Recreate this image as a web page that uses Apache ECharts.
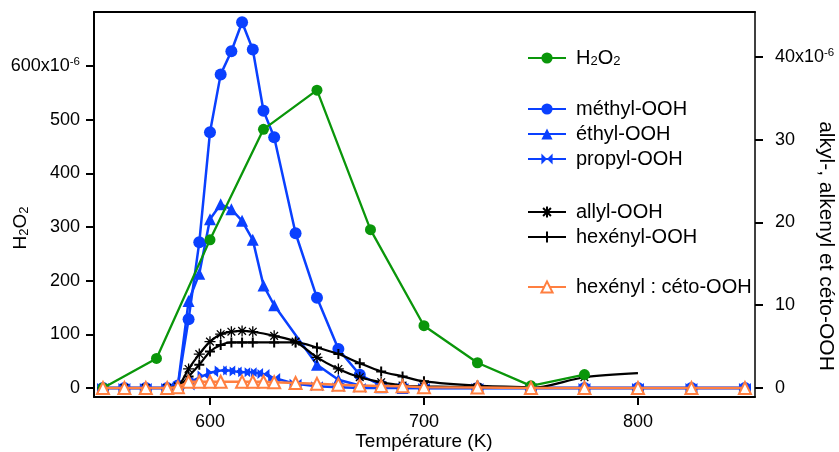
<!DOCTYPE html>
<html>
<head>
<meta charset="utf-8">
<script src="https://cdn.jsdelivr.net/npm/echarts@6/dist/echarts.min.js"></script>
<style>
html,body{margin:0;padding:0;background:#fff;}
#c{width:839px;height:452px;}
</style>
</head>
<body>
<div id="c"></div>
<script>
// ---- data (temperature in K, concentrations) ----
const xTicks = [600, 700, 800];
const leftTicks = [0, 100, 200, 300, 400, 500, 600];
const rightTicks = [0, 10, 20, 30, 40];

const tH2O2 = [550, 575, 600, 625, 650, 675, 700, 725, 750, 775];
const vH2O2 = [0, 55, 276, 482, 555, 295, 116, 47, 4, 25];

const tMethyl = [550, 560, 570, 580, 585, 590, 595, 600, 605, 610, 615, 620, 625, 630, 640, 650, 660, 670, 680, 690, 700, 725, 750, 775, 800, 825, 850];
const vMethyl = [0, 0, 0, 0, 0.3, 8.3, 17.6, 30.9, 37.9, 40.7, 44.2, 40.9, 33.5, 30.3, 18.7, 10.9, 4.7, 1.6, 0.3, 0.1, 0, 0, 0, 0, 0, 0, 0];

const tEthyl = [550, 560, 570, 580, 585, 590, 595, 600, 605, 610, 615, 620, 625, 630, 650, 660, 670, 680, 690, 700, 725, 750, 775, 800, 825, 850];
const vEthyl = [0, 0, 0, 0, 0.3, 10.5, 13.8, 20.4, 22.2, 21.6, 20.2, 17.9, 12.4, 10.0, 2.8, 1.0, 0.3, 0.1, 0, 0, 0, 0, 0, 0, 0, 0];

const tPropyl = [550, 560, 570, 580, 585, 590, 593, 597, 601, 605, 609, 612, 616, 619, 622, 625, 630, 640, 650, 660, 670, 680, 690, 700, 725, 750, 775, 800, 825, 850];
const vPropyl = [0, 0, 0, 0, 0.1, 0.3, 1.0, 1.5, 1.9, 2.1, 2.1, 2.0, 1.9, 1.9, 1.8, 1.7, 1.2, 0.5, 0.2, 0.1, 0, 0, 0, 0, 0, 0, 0, 0, 0, 0];

const tAllyl = [550, 560, 570, 580, 585, 590, 595, 600, 605, 610, 615, 620, 630, 640, 650, 660, 670, 680, 690, 700, 725, 750, 775, 800];
const vAllyl = [0, 0, 0, 0, 0.2, 2.3, 4.1, 5.6, 6.5, 6.8, 6.9, 6.8, 6.3, 5.6, 3.7, 2.3, 1.3, 0.7, 0.3, 0.2, 0.1, 0, 1.3, 1.8];

const tHexenyl = [550, 560, 570, 580, 585, 590, 595, 600, 605, 610, 615, 620, 630, 640, 650, 660, 670, 680, 690, 700, 725, 750];
const vHexenyl = [0, 0, 0, 0, 0.1, 1.4, 2.8, 4.4, 5.2, 5.5, 5.5, 5.5, 5.5, 5.5, 4.9, 4.1, 3.0, 2.0, 1.4, 0.8, 0.3, 0.1];

const tKeto = [550, 560, 570, 580, 585, 590, 595, 600, 605, 615, 620, 625, 630, 640, 650, 660, 670, 680, 690, 700, 725, 750, 775, 800, 825, 850];
const vKeto = [0, 0, 0, 0, 0.1, 0.75, 0.75, 0.75, 0.75, 0.75, 0.75, 0.75, 0.7, 0.6, 0.5, 0.4, 0.3, 0.25, 0.2, 0.1, 0.05, 0, 0, 0, 0, 0];

const names = ['H2O2', 'méthyl-OOH', 'éthyl-OOH', 'propyl-OOH', 'allyl-OOH', 'hexényl-OOH', 'hexényl : céto-OOH'];

// ---- chart ----
function zip(xs, ys) { return xs.map((x, i) => [x, ys[i]]); }
const FONT = 'Liberation Sans, Arial, Helvetica, sans-serif';
const BLUE = '#0a40ff', GREEN = '#0a960a', ORANGE = '#ff7f40';
const asterisk = 'path://M5,0L5,10M0,5L10,5M1.5,1.5L8.5,8.5M8.5,1.5L1.5,8.5';
const plus = 'path://M5,0L5,10M0,5L10,5';
const bowtie = 'path://M0,0L10,5L0,10ZM20,0L10,5L20,10Z';

const supRich = {
  n: {fontSize: 18, fontFamily: FONT, color: '#000', lineHeight: 20, verticalAlign: 'middle'},
  s: {fontSize: 11.5, fontFamily: FONT, color: '#000', lineHeight: 11, verticalAlign: 'top'}
};
const subRich = {
  n: {fontSize: 19, fontFamily: FONT, color: '#000', lineHeight: 20, verticalAlign: 'middle'},
  s: {fontSize: 13, fontFamily: FONT, color: '#000', lineHeight: 14, verticalAlign: 'bottom'}
};

const legendY = [58, 109, 134, 159, 212, 237, 287];
const legends = names.map((nm, i) => ({
  data: [nm],
  left: 527,
  top: legendY[i] - 10,
  padding: 0,
  itemWidth: 38,
  itemHeight: 14,
  selectedMode: false,
  textStyle: {fontSize: 20, fontFamily: FONT, color: '#000', lineHeight: 20, padding: [0, 0, 0, 5],
    rich: {n: {fontSize: 20, fontFamily: FONT, lineHeight: 20, verticalAlign: 'middle'},
           s: {fontSize: 13, fontFamily: FONT, lineHeight: 14, verticalAlign: 'bottom'}}},
  formatter: (n) => n === 'H2O2' ? '{n|H}{s|2}{n|O}{s|2}' : n
}));

const chart = echarts.init(document.getElementById('c'), null, {renderer: 'canvas'});
chart.setOption({
  animation: false,
  backgroundColor: '#fff',
  grid: {left: 94, right: 84, top: 12, bottom: 55, containLabel: false},
  legend: legends,
  xAxis: [{
    type: 'value', min: 545.8, max: 854.7,
    axisLine: {onZero: false, lineStyle: {color: '#000', width: 2}},
    axisTick: {length: 8, lineStyle: {color: '#000', width: 2}, customValues: xTicks},
    axisLabel: {customValues: xTicks, fontSize: 18, fontFamily: FONT, color: '#000', margin: 16},
    splitLine: {show: false}
  }, {
    type: 'value', min: 545.8, max: 854.7, position: 'top',
    axisLine: {onZero: false, lineStyle: {color: '#000', width: 2}},
    axisTick: {show: false}, axisLabel: {show: false}, splitLine: {show: false}
  }],
  yAxis: [{
    type: 'value', min: -16.8, max: 700.6, position: 'left',
    axisLine: {show: true, onZero: false, lineStyle: {color: '#000', width: 2}},
    axisTick: {show: true, length: 8, lineStyle: {color: '#000', width: 2}, customValues: leftTicks},
    axisLabel: {customValues: leftTicks, margin: 14, rich: supRich,
      formatter: (v) => v === 600 ? '{n|600x10}{s|-6}' : '{n|' + v + '}'},
    splitLine: {show: false}
  }, {
    type: 'value', min: -1.09, max: 45.44, position: 'right',
    axisLine: {show: true, onZero: false, lineStyle: {color: '#000', width: 1.5}},
    axisTick: {show: true, length: 8, lineStyle: {color: '#000', width: 2}, customValues: rightTicks},
    axisLabel: {customValues: rightTicks, margin: 20, rich: supRich,
      formatter: (v) => v === 40 ? '{n|40x10}{s|-6}' : '{n|' + v + '}'},
    splitLine: {show: false}
  }],
  graphic: [
    {type: 'text', x: 21, y: 228, rotation: Math.PI / 2,
     style: {text: '{n|H}{s|2}{n|O}{s|2}', rich: subRich, align: 'center', verticalAlign: 'middle'}},
    {type: 'text', x: 826, y: 246, rotation: -Math.PI / 2,
     style: {text: 'alkyl-, alkenyl et céto-OOH', fontSize: 21, fontFamily: FONT, fill: '#000', align: 'center', verticalAlign: 'middle'}},
    {type: 'text', x: 424, y: 442,
     style: {text: 'Température (K)', fontSize: 19, fontFamily: FONT, fill: '#000', align: 'center', verticalAlign: 'middle'}}
  ],
  series: [
    {name: names[1], type: 'line', yAxisIndex: 1, data: zip(tMethyl, vMethyl), symbol: 'circle', symbolSize: 12,
     lineStyle: {color: BLUE, width: 2.5}, itemStyle: {color: BLUE}, z: 2},
    {name: names[2], type: 'line', yAxisIndex: 1, data: zip(tEthyl, vEthyl), symbol: 'triangle', symbolSize: 12,
     lineStyle: {color: BLUE, width: 2.5}, itemStyle: {color: BLUE}, z: 2},
    {name: names[3], type: 'line', yAxisIndex: 1, data: zip(tPropyl, vPropyl), symbol: bowtie, symbolSize: [12, 10],
     lineStyle: {color: BLUE, width: 2.5}, itemStyle: {color: BLUE}, z: 2},
    {name: names[4], type: 'line', yAxisIndex: 1, data: zip(tAllyl, vAllyl),
     symbol: asterisk, symbolSize: (v, p) => (p && p.dataIndex === tAllyl.length - 1) ? 0 : 11, smooth: 0.3,
     lineStyle: {color: '#000', width: 2.2}, itemStyle: {color: '#000', borderColor: '#000', borderWidth: 1.3}, z: 3},
    {name: names[5], type: 'line', yAxisIndex: 1, data: zip(tHexenyl, vHexenyl), symbol: plus, symbolSize: 10, smooth: 0.3,
     lineStyle: {color: '#000', width: 2.2}, itemStyle: {color: '#000', borderColor: '#000', borderWidth: 2}, z: 3},
    {name: names[0], type: 'line', yAxisIndex: 0, data: zip(tH2O2, vH2O2), symbol: 'circle', symbolSize: 11,
     lineStyle: {color: GREEN, width: 2.3}, itemStyle: {color: GREEN}, z: 4},
    {name: names[6], type: 'line', yAxisIndex: 1, data: zip(tKeto, vKeto), symbol: 'emptyTriangle', symbolSize: 12,
     lineStyle: {color: ORANGE, width: 2.5}, itemStyle: {color: ORANGE, borderWidth: 1.3}, z: 5}
  ]
});
</script>
</body>
</html>
